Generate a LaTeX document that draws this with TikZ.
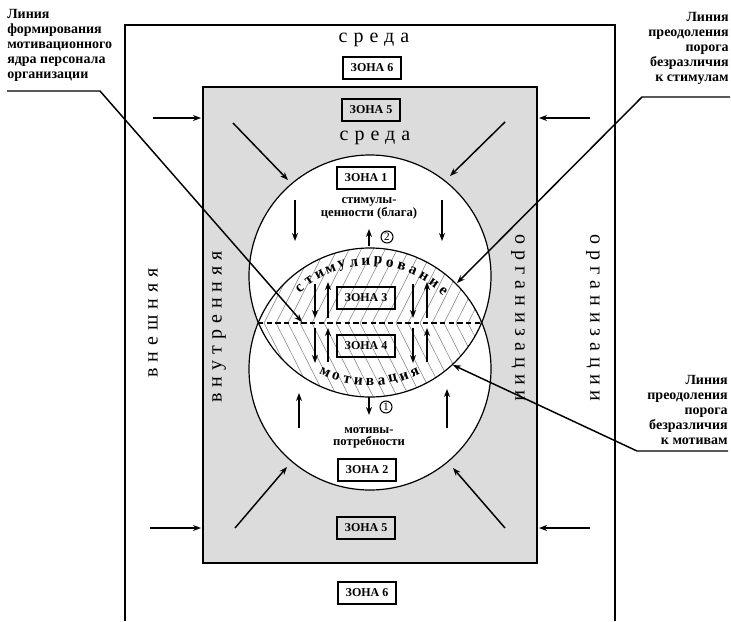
\documentclass[tikz,border=0pt]{standalone}
\usepackage{fontspec}
\setmainfont{Liberation Serif}
\newfontfamily\spaced[LetterSpace=30]{Liberation Serif}
\usetikzlibrary{arrows.meta}
\definecolor{greyfill}{HTML}{DCDCDC}
\tikzset{
  zone/.style={draw, line width=1.3pt, minimum width=43pt, minimum height=16pt, inner sep=1pt, font=\bfseries\fontsize{9}{10}\selectfont},
  arr/.style={-{Stealth[length=6pt,width=4.5pt]}, line width=1.1pt},
  callout/.style={-{Stealth[length=6pt,width=4.5pt]}, line width=1.1pt},
  bigword/.style={font=\spaced\fontsize{15}{16}\selectfont, inner sep=0pt},
  lbl/.style={font=\bfseries\fontsize{10.5}{11.3}\selectfont, inner sep=0pt},
  small/.style={font=\bfseries\fontsize{9.5}{8.6}\selectfont, align=center, inner sep=0pt},
  arcl/.style={font=\bfseries\fontsize{11.5}{12}\selectfont, inner sep=0pt},
  num/.style={draw, circle, line width=0.8pt, inner sep=0.6pt, minimum size=9pt, font=\fontsize{8.5}{9}\selectfont},
  hatch/.style={draw=black!50, line width=0.4pt}
}
\begin{document}
\begin{tikzpicture}[x=0.75pt,y=-0.75pt]
\useasboundingbox (0,0) rectangle (731,621);
% outer frame (open at bottom)
\draw[line width=1.5pt] (125,621) -- (125,25) -- (615,25) -- (615,621);
% inner grey rectangle
\draw[line width=1.5pt, fill=greyfill] (203,87) rectangle (537,563);
% circles
\fill[white] (370,276) circle[radius=90.75pt];
\fill[white] (370,369) circle[radius=90.75pt];
% hatching of lens
\begin{scope}
  \clip (370,276) circle[radius=90.75pt];
  \clip (370,369) circle[radius=90.75pt];
  \begin{scope}
    \clip (240,200) rectangle (500,323);
    \foreach \x in {180,192,...,500} \draw[hatch] (\x,323) -- (\x+42,240);
  \end{scope}
  \begin{scope}
    \clip (240,323) rectangle (500,420);
    \foreach \x in {180,192,...,500} \draw[hatch] (\x,323) -- (\x+42,406);
  \end{scope}
\end{scope}
\draw[line width=0.9pt] (370,276) circle[radius=90.75pt];
\draw[line width=0.9pt] (370,369) circle[radius=90.75pt];
\coordinate (dl) at (258,323);
\coordinate (dr) at (482,323);
\draw[line width=0.9pt, dash pattern=on 4pt off 2.5pt] (dl) -- (dr);

% big words
\node[bigword] (sredaTop) at (374,40) {среда};
\node[bigword] (sredaIn) at (375,138) {среда};
\node[bigword, rotate=90] (vnesh) at (153,323) {внешняя};
\node[bigword, rotate=90] (vnutr) at (219,327) {внутренняя};
\node[bigword, rotate=-90] (orgIn) at (518,318) {организации};
\node[bigword, rotate=-90] (orgOut) at (593,318) {организации};

% zones
\node[zone] (z6t) at (372,68) {ЗОНА 6};
\node[zone] (z5t) at (371,110) {ЗОНА 5};
\node[zone] (z1) at (366,178) {ЗОНА 1};
\node[zone] (z3) at (366,298) {ЗОНА 3};
\node[zone] (z4) at (366,346) {ЗОНА 4};
\node[zone] (z2) at (367,470) {ЗОНА 2};
\node[zone] (z5b) at (366,528) {ЗОНА 5};
\node[zone] (z6b) at (367,593) {ЗОНА 6};

% inner texts
\node[small] (stim) at (369,208) {стимулы-\\ценности (блага)};
\node[small] (motiv) at (369,438) {мотивы-\\потребности};
\node[num] (n2) at (387,237) {2};
\node[num] (n1) at (386,407) {1};

% arc texts
\foreach \l [count=\i] in {с,т,и,м,у,л,и,р,о,в,а,н,и,е} {
  \pgfmathsetmacro\a{131-(\i-1)*84/13}
  \pgfmathsetmacro\px{370+107*cos(\a)}
  \pgfmathsetmacro\py{369-107*sin(\a)}
  \pgfmathsetmacro\r{\a-90}
  \node[arcl, rotate=\r] (st\i) at (\px,\py) {\l};
}
\foreach \l [count=\i] in {м,о,т,и,в,а,ц,и,я} {
  \pgfmathsetmacro\a{245+(\i-1)*50/8}
  \pgfmathsetmacro\px{370+106*cos(\a)}
  \pgfmathsetmacro\py{276-106*sin(\a)}
  \pgfmathsetmacro\r{\a+90}
  \node[arcl, rotate=\r] (mo\i) at (\px,\py) {\l};
}

% horizontal arrows
\coordinate (h1a) at (153,118); \coordinate (h1b) at (201,118);
\coordinate (h2a) at (590,118); \coordinate (h2b) at (539,118);
\coordinate (h3a) at (150,528); \coordinate (h3b) at (201,528);
\coordinate (h4a) at (590,528); \coordinate (h4b) at (539,528);
\draw[arr] (h1a) -- (h1b);
\draw[arr] (h2a) -- (h2b);
\draw[arr] (h3a) -- (h3b);
\draw[arr] (h4a) -- (h4b);
% diagonal arrows
\coordinate (d1a) at (233,123); \coordinate (d1b) at (288,180);
\coordinate (d2a) at (505,122); \coordinate (d2b) at (450,176);
\coordinate (d3a) at (235,528); \coordinate (d3b) at (287,467);
\coordinate (d4a) at (505,528); \coordinate (d4b) at (453,468);
\draw[arr] (d1a) -- (d1b);
\draw[arr] (d2a) -- (d2b);
\draw[arr] (d3a) -- (d3b);
\draw[arr] (d4a) -- (d4b);
% arrows in circles
\coordinate (u1a) at (295,200); \coordinate (u1b) at (295,241);
\coordinate (u2a) at (442,200); \coordinate (u2b) at (442,241);
\draw[arr] (u1a) -- (u1b);
\draw[arr] (u2a) -- (u2b);
\coordinate (c2a) at (369,246); \coordinate (c2b) at (369,229);
\draw[arr] (c2a) -- (c2b);
\coordinate (l1a) at (299,428); \coordinate (l1b) at (299,393);
\coordinate (l2a) at (447,428); \coordinate (l2b) at (447,389);
\draw[arr] (l1a) -- (l1b);
\draw[arr] (l2a) -- (l2b);
\coordinate (c1a) at (369,397); \coordinate (c1b) at (369,415);
\draw[arr] (c1a) -- (c1b);
% lens arrows
\foreach \xd/\xu [count=\k] in {315/328, 413/427} {
  \coordinate (ad\k) at (\xd,284); \coordinate (bd\k) at (\xd,318);
  \coordinate (au\k) at (\xu,318); \coordinate (bu\k) at (\xu,282);
  \draw[arr] (ad\k) -- (bd\k);
  \draw[arr] (au\k) -- (bu\k);
  \coordinate (cd\k) at (\xd,328); \coordinate (ed\k) at (\xd,363);
  \coordinate (cu\k) at (\xu,362); \coordinate (eu\k) at (\xu,328);
  \draw[arr] (cd\k) -- (ed\k);
  \draw[arr] (cu\k) -- (eu\k);
}

% callout labels
\node[lbl, anchor=north west, align=left] (labL) at (7,9) {Линия\\формирования\\мотивационного\\ядра персонала\\организации};
\node[lbl, anchor=north east, align=right] (labR1) at (729,12) {Линия\\преодоления\\порога\\безразличия\\к стимулам};
\node[lbl, anchor=north east, align=right] (labR2) at (728,375) {Линия\\преодоления\\порога\\безразличия\\к мотивам};
\coordinate (lA1) at (7,91); \coordinate (lA2) at (100,91); \coordinate (lA3) at (302,322);
\draw[callout] (lA1) -- (lA2) -- (lA3);
\coordinate (rA1) at (730,97); \coordinate (rA2) at (642,97); \coordinate (rA3) at (457,283);
\draw[callout] (rA1) -- (rA2) -- (rA3);
\coordinate (rB1) at (728,451); \coordinate (rB2) at (637,451); \coordinate (rB3) at (453,365);
\draw[callout] (rB1) -- (rB2) -- (rB3);
\end{tikzpicture}
\end{document}
